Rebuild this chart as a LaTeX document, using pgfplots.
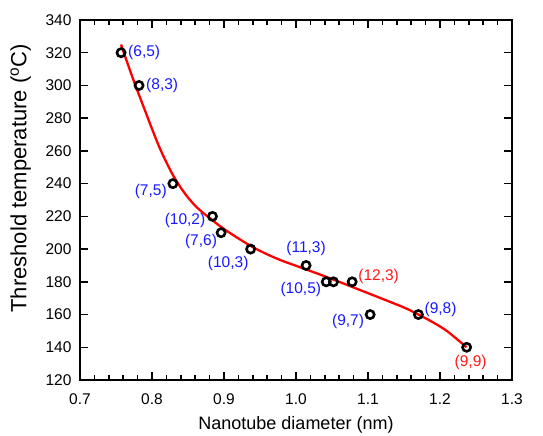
\documentclass[border=0pt]{standalone}
\usepackage{pgfplots}
\pgfplotsset{compat=1.18}
\usepackage{fontspec}
\setmainfont{Liberation Sans}
\definecolor{lblblue}{RGB}{25,25,255}
\definecolor{lblred}{RGB}{255,25,25}
\definecolor{fitred}{RGB}{255,0,0}

\begin{document}
\begin{tikzpicture}
\begin{axis}[
  scale only axis, width=432pt, height=360pt,
  xmin=0.7, xmax=1.3, ymin=120, ymax=340,
  xtick={0.7,0.8,0.9,1.0,1.1,1.2,1.3},
  ytick={120,140,...,340},
  minor x tick num=4,
  xticklabel style={/pgf/number format/fixed, /pgf/number format/fixed zerofill,
    /pgf/number format/precision=1, yshift=-10pt},
  /pgf/number format/assume math mode=true,
  tick align=inside,
  major tick length=8pt, minor tick length=5pt,
  every tick/.style={black, line width=1.5pt},
  axis line style={line width=1.9pt},
  tick label style={font=\fontsize{15.5}{18}\selectfont},
  yticklabel style={xshift=-5pt},
  xlabel={Nanotube diameter (nm)},
  ylabel={Threshold temperature (\textsuperscript{o}C)},
  xlabel style={font=\fontsize{18}{22}\selectfont,
    at={(axis description cs:0.5,-0.1)}, anchor=north, inner sep=0pt},
  ylabel style={font=\fontsize{22}{26}\selectfont,
    at={(axis description cs:-0.113,0.56)}, anchor=south, inner sep=0pt},
  clip=false,
]
% fitted curve
\addplot[fitred, line width=2.3pt, smooth] coordinates {
  (0.757,325) (0.770,308.5) (0.780,296.5) (0.790,285) (0.800,273.5)
  (0.810,262.5) (0.820,253) (0.830,244.5) (0.840,237.5) (0.850,231.5)
  (0.860,226.5) (0.870,222.5) (0.880,219) (0.890,215.5) (0.900,212.3)
  (0.920,206.5) (0.940,201.2) (0.960,196.8) (0.980,193) (1.000,189.8)
  (1.030,185) (1.060,180) (1.090,174.8) (1.120,169.6) (1.150,164.3)
  (1.170,160) (1.190,155.3) (1.210,149.8) (1.237,140)
};
% measured points
\addplot[only marks, mark=o, mark size=4.1pt,
  mark options={black, line width=2.6pt, fill=white}] coordinates {
  (0.757,320) (0.782,300) (0.829,240) (0.884,220) (0.896,210)
  (0.937,200) (1.014,190) (1.042,180) (1.052,180) (1.078,180)
  (1.103,160) (1.170,160) (1.237,140)
};
\begin{scope}[every node/.style={font=\fontsize{15.5}{18}\selectfont, inner sep=0pt}]
\node[lblblue, anchor=west, xshift=7pt] at (axis cs:0.757,320) {(6,5)};
\node[lblblue, anchor=west, xshift=7pt] at (axis cs:0.782,300) {(8,3)};
\node[lblblue, anchor=east, xshift=-6pt, yshift=-8pt] at (axis cs:0.829,240) {(7,5)};
\node[lblblue, anchor=east, xshift=-7pt, yshift=-4pt] at (axis cs:0.884,220) {(10,2)};
\node[lblblue, anchor=east, xshift=-4pt, yshift=-9pt] at (axis cs:0.896,210) {(7,6)};
\node[lblblue, anchor=east, xshift=-2pt, yshift=-14pt] at (axis cs:0.937,200) {(10,3)};
\node[lblblue, yshift=17pt] at (axis cs:1.014,190) {(11,3)};
\node[lblblue, anchor=east, xshift=-5pt, yshift=-8pt] at (axis cs:1.042,180) {(10,5)};
\node[lblred, anchor=west, xshift=6pt, yshift=5pt] at (axis cs:1.078,180) {(12,3)};
\node[lblblue, anchor=east, xshift=-6pt, yshift=-7pt] at (axis cs:1.103,160) {(9,7)};
\node[lblblue, anchor=west, xshift=6pt, yshift=5pt] at (axis cs:1.170,160) {(9,8)};
\node[lblred, xshift=4pt, yshift=-15pt] at (axis cs:1.237,140) {(9,9)};
\end{scope}
\end{axis}
\path (current axis.south west) ++(-80pt,-55pt) coordinate (bl);
\path (current axis.north east) ++(31pt,20pt) coordinate (tr);
\path (bl) rectangle (tr);
\end{tikzpicture}
\end{document}
